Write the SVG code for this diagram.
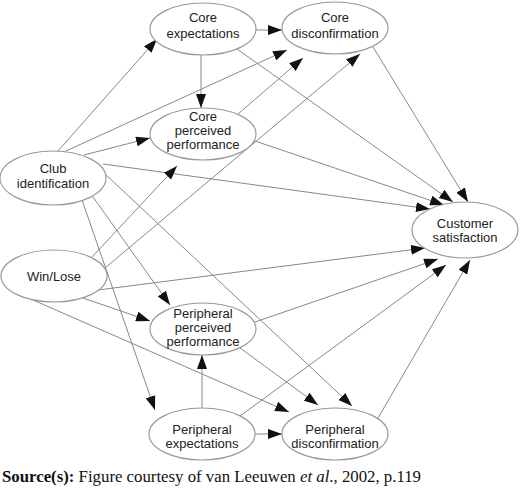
<svg xmlns="http://www.w3.org/2000/svg" width="520" height="488" viewBox="0 0 520 488">
<style>
.n ellipse{fill:#fff;stroke:#999;stroke-width:1.2}
.n text{font-family:"Liberation Sans",Arial,sans-serif;font-size:13px;fill:#222;text-anchor:middle}
#edges line{stroke:#888;stroke-width:1;marker-end:url(#ah)}
.cap{font-family:"Liberation Serif","Times New Roman",serif;font-size:16.8px;fill:#111}
</style>
<defs>
<marker id="ah" markerUnits="userSpaceOnUse" markerWidth="14" markerHeight="10" refX="14" refY="5" orient="auto">
<path d="M0,0 L14,5 L0,10 z" fill="#111"/>
</marker>
</defs>
<rect width="520" height="488" fill="#fff"/>
<g id="edges">
<line x1="256" y1="30" x2="282" y2="30"/>
<line x1="201" y1="55" x2="201" y2="108"/>
<line x1="237" y1="49" x2="453" y2="202"/>
<line x1="373" y1="47" x2="468" y2="202"/>
<line x1="58" y1="151" x2="157" y2="39"/>
<line x1="84" y1="155" x2="150" y2="138"/>
<line x1="66" y1="151" x2="287" y2="50"/>
<line x1="103" y1="164" x2="430" y2="209"/>
<line x1="93" y1="197" x2="170" y2="305"/>
<line x1="82" y1="200" x2="155" y2="410"/>
<line x1="103" y1="172" x2="352" y2="406"/>
<line x1="92" y1="257" x2="177" y2="166"/>
<line x1="105" y1="268" x2="360" y2="54"/>
<line x1="98" y1="290" x2="425" y2="248"/>
<line x1="83" y1="298" x2="150" y2="321"/>
<line x1="33" y1="300" x2="289" y2="412"/>
<line x1="238" y1="114" x2="303" y2="58"/>
<line x1="255" y1="141" x2="444" y2="205"/>
<line x1="255" y1="322" x2="438" y2="259"/>
<line x1="240" y1="348" x2="318" y2="405"/>
<line x1="202" y1="408" x2="202" y2="355"/>
<line x1="255" y1="434" x2="282" y2="434"/>
<line x1="240" y1="416" x2="446" y2="265"/>
<line x1="378" y1="418" x2="470" y2="260"/>
</g>
<g id="core-expectations" class="n"><ellipse cx="203" cy="29" rx="53" ry="26"/><text x="203" y="22">Core</text><text x="203" y="38">expectations</text></g>
<g id="core-disconfirmation" class="n"><ellipse cx="335" cy="28" rx="53" ry="26"/><text x="335" y="22">Core</text><text x="335" y="38">disconfirmation</text></g>
<g id="core-perceived-performance" class="n"><ellipse cx="203" cy="134" rx="53" ry="26"/><text x="203" y="121">Core</text><text x="203" y="135">perceived</text><text x="203" y="149">performance</text></g>
<g id="club-identification" class="n"><ellipse cx="53" cy="178" rx="53" ry="27"/><text x="53" y="173">Club</text><text x="53" y="188">identification</text></g>
<g id="win-lose" class="n"><ellipse cx="54" cy="276" rx="53" ry="26"/><text x="54" y="281">Win/Lose</text></g>
<g id="customer-satisfaction" class="n"><ellipse cx="465" cy="230" rx="53" ry="28"/><text x="465" y="228">Customer</text><text x="465" y="242">satisfaction</text></g>
<g id="peripheral-perceived-performance" class="n"><ellipse cx="203" cy="329" rx="53" ry="26"/><text x="203" y="318">Peripheral</text><text x="203" y="332">perceived</text><text x="203" y="346">performance</text></g>
<g id="peripheral-expectations" class="n"><ellipse cx="202" cy="434" rx="53" ry="26"/><text x="202" y="434">Peripheral</text><text x="202" y="448">expectations</text></g>
<g id="peripheral-disconfirmation" class="n"><ellipse cx="335" cy="434" rx="53" ry="26"/><text x="335" y="434">Peripheral</text><text x="335" y="448">disconfirmation</text></g>
<text class="cap" x="2" y="482"><tspan font-weight="bold">Source(s):</tspan> Figure courtesy of van Leeuwen <tspan font-style="italic">et al</tspan>., 2002, p.119</text>
</svg>
